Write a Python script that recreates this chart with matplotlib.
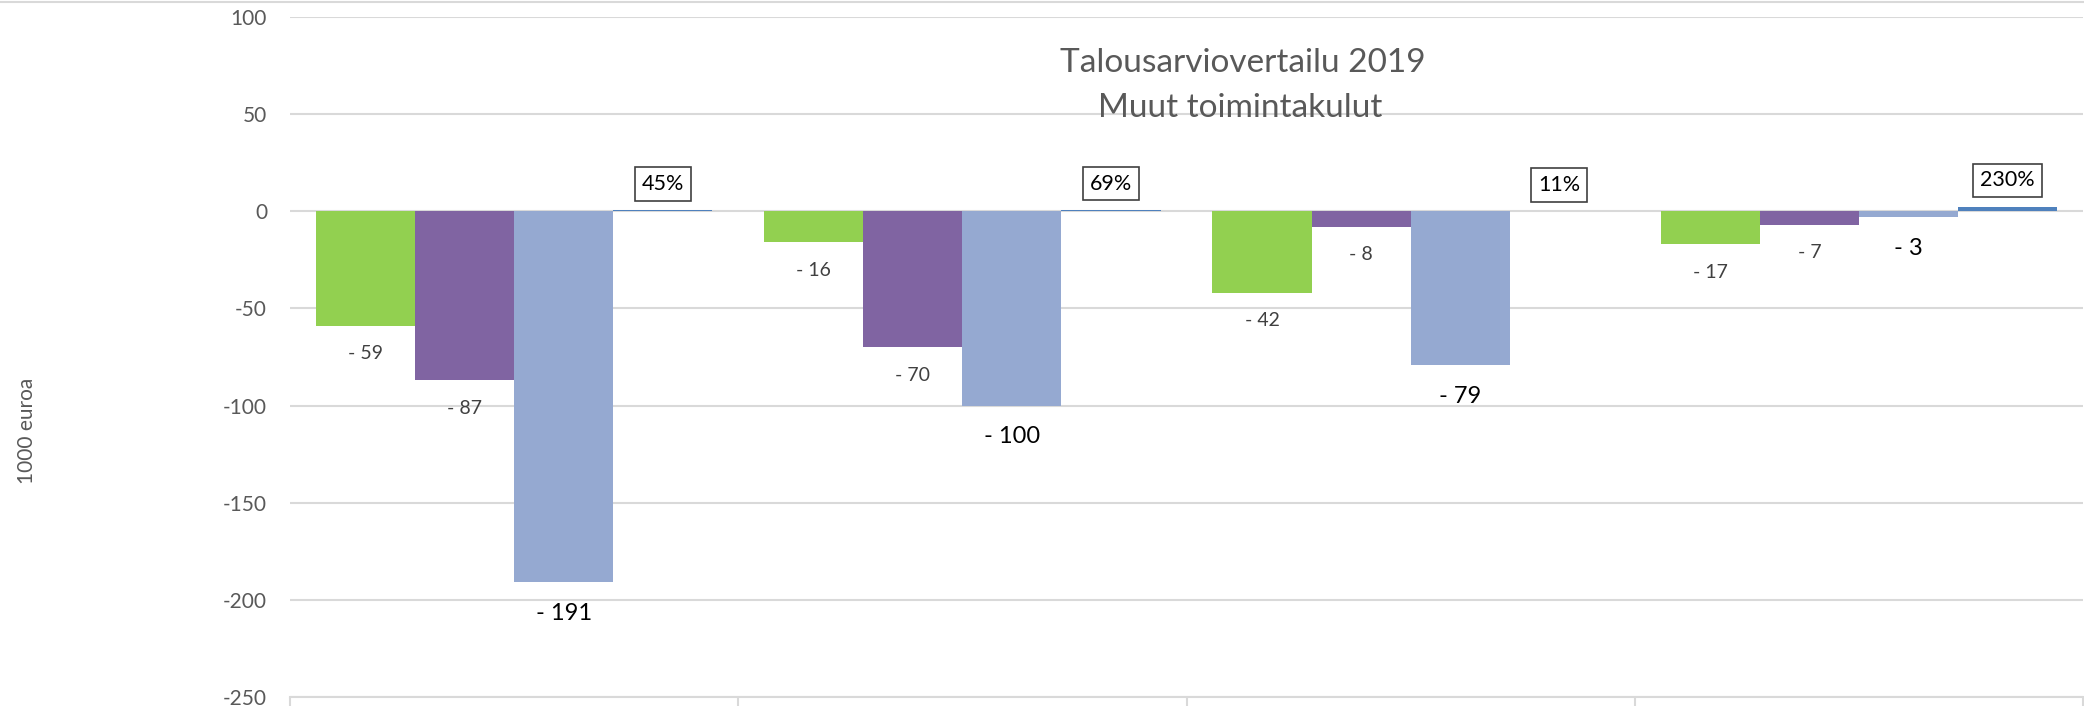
import matplotlib
matplotlib.use("Agg")
import matplotlib.pyplot as plt
from matplotlib.lines import Line2D
import numpy as np

plt.rcParams['font.family'] = ['Lato', 'DejaVu Sans']

# ---- data ----
categories = ["1", "2", "3", "4"]
series_green = [-59, -16, -42, -17]
series_purple = [-87, -70, -8, -7]
series_lightblue = [-191, -100, -79, -3]
series_change = [0.45, 0.69, 0.11, 2.30]
change_pct = [45, 69, 11, 230]
yticks = [-250, -200, -150, -100, -50, 0, 50, 100]

title_line1 = "Talousarviovertailu 2019"
title_line2 = "Muut toimintakulut"
ylabel_text = "1000 euroa"

W, H = 2084, 706
fig = plt.figure(figsize=(W / 100, H / 100), dpi=100)
ax = fig.add_axes([290 / W, 1 - 697 / H, (2083 - 290) / W, (697 - 17) / H])

x = np.arange(len(categories))
w = 0.221
colors = ['#92D050', '#8064A2', '#95A9D1', '#4F81BD']
all_series = [series_green, series_purple, series_lightblue, series_change]
offsets = [-1.5, -0.5, 0.5, 1.5]

for s, c, o in zip(all_series, colors, offsets):
    ax.bar(x + o * w, s, width=w, color=c, zorder=3, linewidth=0)

# value labels
label_specs = [(series_green, 14, '#404040', 20.0),
               (series_purple, 14, '#404040', 20.0),
               (series_lightblue, 17, '#000000', 22.5)]
for (s, fs, col, off), o in zip(label_specs, offsets[:3]):
    for xi, v in zip(x, s):
        ax.annotate(f"- {abs(v)}", xy=(xi + o * w, v), xytext=(0, -off),
                    textcoords='offset points', ha='center', va='center',
                    fontsize=fs, color=col, zorder=5)

for xi, v, p in zip(x, series_change, change_pct):
    ax.annotate(f"{p}%", xy=(xi + offsets[3] * w, v), xytext=(0, 19),
                textcoords='offset points', ha='center', va='center',
                fontsize=15.5, color='#000000', zorder=5,
                bbox=dict(boxstyle='square,pad=0.32', fc='white',
                          ec='#404040', lw=1.2))

ax.set_xlim(-0.5, len(categories) - 0.5)
ax.set_ylim(-250, 100)
ax.set_yticks(yticks)
ax.set_yticklabels([str(t) for t in yticks], fontsize=15, color='#595959')
ax.yaxis.grid(True, color='#D9D9D9', lw=1.5, zorder=0)
ax.set_axisbelow(True)
ax.tick_params(axis='y', length=0, pad=16.5)

ax.set_xticks([])
ax.set_xticks(np.arange(-0.5, len(categories)), minor=True)
ax.tick_params(axis='x', which='minor', length=7, width=1.5, color='#D9D9D9',
               direction='out')
ax.set_xticklabels([], minor=True)

for sp in ['left', 'top', 'right']:
    ax.spines[sp].set_visible(False)
ax.spines['bottom'].set_color('#D9D9D9')
ax.spines['bottom'].set_linewidth(1.5)

fig.text(1243 / W, 1 - 71.7 / H, title_line1, ha='center', va='baseline',
         fontsize=24, color='#595959')
fig.text(1240 / W, 1 - 117.4 / H, title_line2, ha='center', va='baseline',
         fontsize=24, color='#595959')
fig.text(27 / W, 1 - 431 / H, ylabel_text, ha='center', va='center',
         rotation=90, fontsize=15, color='#595959')

fig.add_artist(Line2D([0, 1], [1 - 2 / H, 1 - 2 / H], color='#D9D9D9',
                      lw=1.5, transform=fig.transFigure))

fig.savefig("out.png", dpi=100)
